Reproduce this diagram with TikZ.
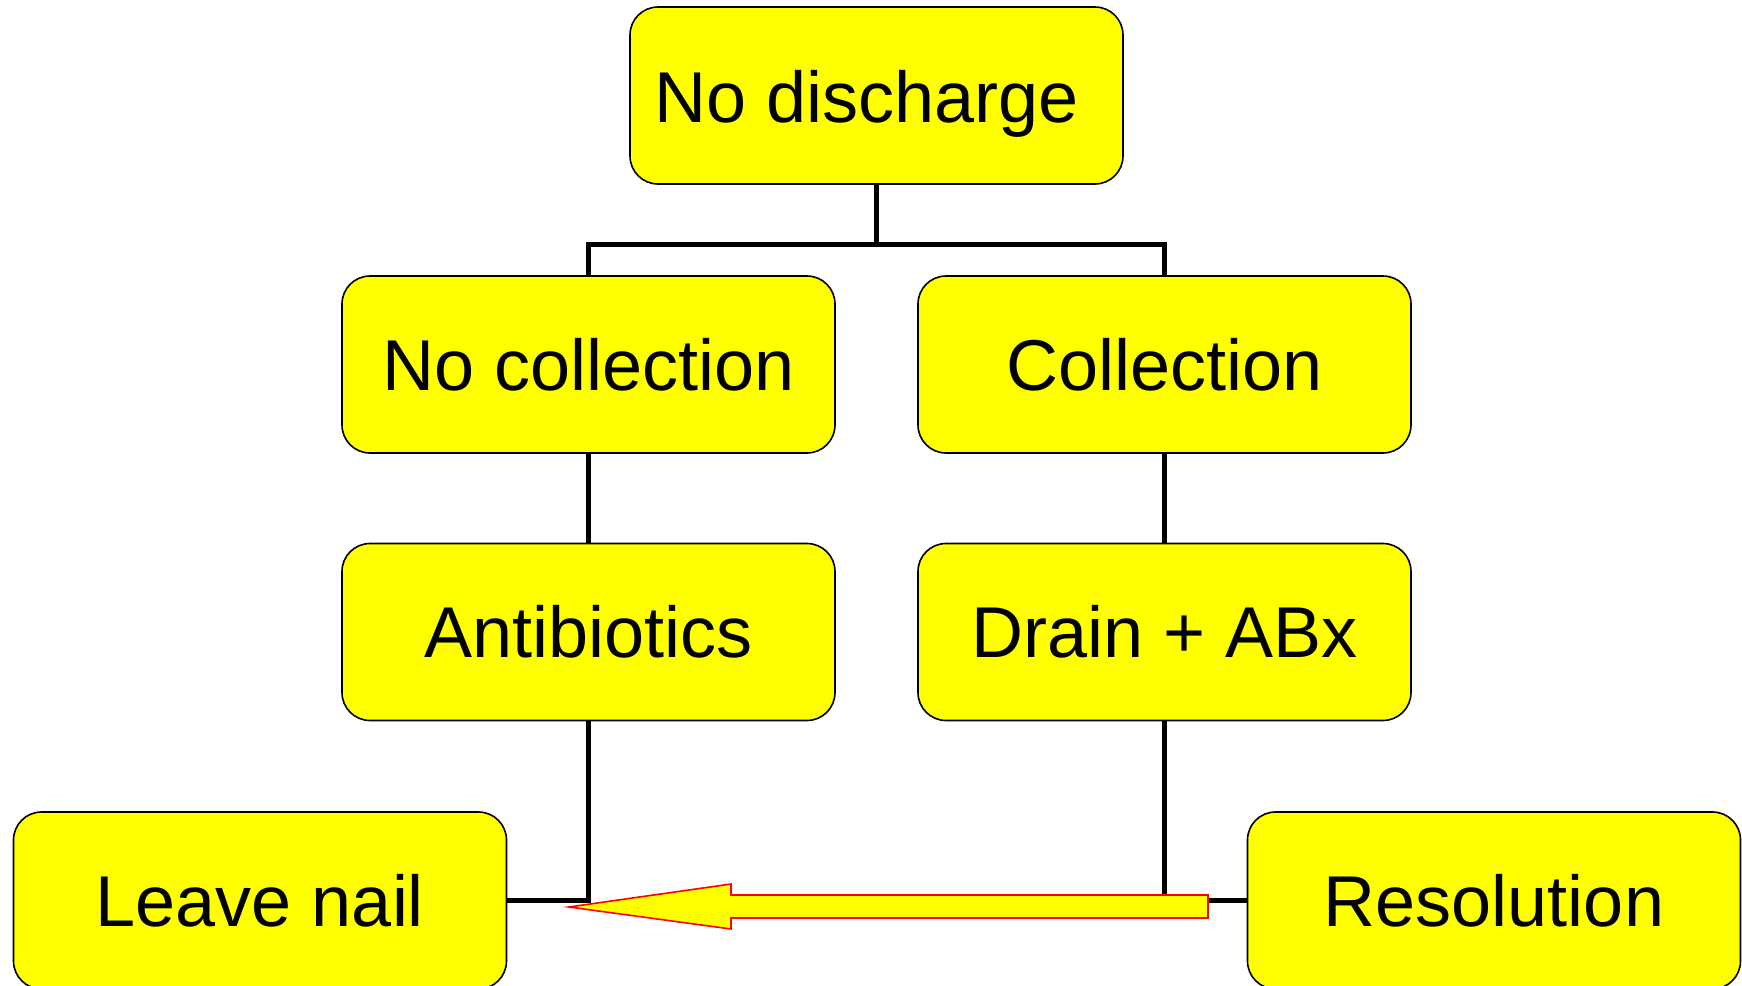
\documentclass[tikz,border=0pt]{standalone}
\usepackage{fontspec}
\setmainfont{Liberation Sans}
\definecolor{boxyellow}{RGB}{255,255,0}
\definecolor{arrowred}{RGB}{255,0,0}
\begin{document}
\begin{tikzpicture}[x=0.5pt,y=-0.5pt,
  box/.style={draw=black,line width=0.8pt,fill=boxyellow,rounded corners=14pt,
    minimum width=246.5pt,minimum height=88.5pt,inner sep=0pt,
    font=\fontsize{36pt}{40pt}\selectfont},
  link/.style={draw=black,line width=2.5pt},
  blockarrow/.style={draw=arrowred,line width=0.8pt,fill=boxyellow,line join=miter}]
\useasboundingbox (0,0) rectangle (1742,986);
\node[box] (top) at (876.5,95.5) {\raisebox{-13.5pt}[0pt][0pt]{No discharge\ }};
\node[box] (nocoll) at (588.5,364.5) {No collection};
\node[box] (coll) at (1164.5,364.5) {Collection};
\node[box] (anti) at (588.5,632) {Antibiotics};
\node[box] (drain) at (1164.5,632) {Drain + ABx};
\node[box] (leave) at (260,900.5) {Leave nail};
\node[box] (resol) at (1494,900.5) {Resolution};
\coordinate (bar) at (876.5,244);
\coordinate (lj) at (588.5,900);
\coordinate (rj) at (1164.5,900);
\draw[link] (top.south) -- (bar);
\draw[link] (nocoll.north) |- (bar) -| (coll.north);
\draw[link] (nocoll.south) -- (anti.north);
\draw[link] (coll.south) -- (drain.north);
\draw[link] (anti.south) -- (lj) -- (leave.east |- lj);
\draw[link] (drain.south) -- (rj) -- (resol.west |- rj);
\draw[blockarrow] (1208,895) -- (731,895) -- (731,884) -- (569,907) -- (731,929) -- (731,918) -- (1208,918) -- cycle;
\end{tikzpicture}
\end{document}
